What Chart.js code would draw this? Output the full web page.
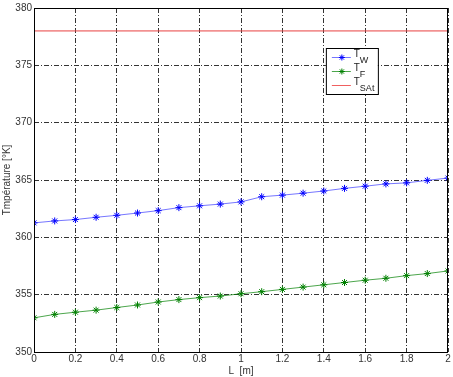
<!DOCTYPE html>
<html>
<head>
<meta charset="utf-8">
<script src="https://cdn.jsdelivr.net/npm/chart.js@4"></script>
<style>
    body { margin: 0; background: #fff; }
    #wrap { width: 453px; height: 377px; }
</style>
</head>
<body>
<div id="wrap"><canvas id="tempChart" width="453" height="377"></canvas></div>
<script>
// position along the tube [m]
const lengths = [0, 0.1, 0.2, 0.3, 0.4, 0.5, 0.6, 0.7, 0.8, 0.9, 1.0,
                 1.1, 1.2, 1.3, 1.4, 1.5, 1.6, 1.7, 1.8, 1.9, 2.0];
// wall temperature
const tempWall = [361.26, 361.43, 361.55, 361.75, 361.92, 362.12, 362.33, 362.59, 362.75, 362.90, 363.09,
                  363.54, 363.68, 363.85, 364.04, 364.27, 364.46, 364.66, 364.75, 364.97, 365.17];
// fluid temperature
const tempFluid = [352.98, 353.28, 353.47, 353.65, 353.88, 354.10, 354.36, 354.57, 354.74, 354.88, 355.08,
                   355.26, 355.46, 355.66, 355.86, 356.06, 356.26, 356.43, 356.66, 356.84, 357.07];
// saturation temperature
const tempSat = 378;
const xRange = [0, 2];
const yRange = [350, 380];

const legendItems = [
    { main: "T", sub: "W", color: "#0000ff", line: "rgba(60,60,255,0.7)", marker: true },
    { main: "T", sub: "F", color: "#008000", line: "rgba(0,128,0,0.7)", marker: true },
    { main: "T", sub: "SAt", color: "#f06060", line: "#f06060", marker: false }
];

const font = { family: "Liberation Sans, Arial, sans-serif", size: 10 };

function drawStar(ctx, x, y, r) {
    ctx.beginPath();
    ctx.moveTo(x - r, y); ctx.lineTo(x + r, y);
    ctx.moveTo(x, y - r); ctx.lineTo(x, y + r);
    const d = r * 0.7;
    ctx.moveTo(x - d, y - d); ctx.lineTo(x + d, y + d);
    ctx.moveTo(x - d, y + d); ctx.lineTo(x + d, y - d);
    ctx.stroke();
}

const framePlugin = {
    id: "frameAndLegend",
    afterDraw(chart) {
        const ctx = chart.ctx;
        const a = chart.chartArea;
        ctx.save();
        ctx.strokeStyle = "#000";
        ctx.lineWidth = 1;
        ctx.strokeRect(a.left + 0.5, a.top + 0.5, a.right - a.left - 1, a.bottom - a.top);

        // legend box, upper right like matlab
        const bx = a.left + (a.right - a.left) * 0.705;
        const by = a.top + 40;
        const bw = 52, bh = 46;
        ctx.fillStyle = "#fff";
        ctx.fillRect(bx, by, bw, bh);
        ctx.strokeRect(bx + 0.5, by + 0.5, bw, bh);

        legendItems.forEach((item, i) => {
            const ly = by + 9.5 + i * 14;
            ctx.strokeStyle = item.line;
            ctx.lineWidth = 1;
            ctx.beginPath();
            ctx.moveTo(bx + 6, ly);
            ctx.lineTo(bx + 25, ly);
            ctx.stroke();
            if (item.marker) {
                ctx.strokeStyle = item.color;
                drawStar(ctx, bx + 16, ly, 3);
            }
            ctx.fillStyle = "#222";
            ctx.font = "10px " + font.family;
            ctx.textBaseline = "middle";
            ctx.fillText(item.main, bx + 28, ly - 3);
            ctx.font = "9px " + font.family;
            ctx.fillText(item.sub, bx + 34, ly + 3);
        });
        ctx.restore();
    }
};

const toPoints = (xs, ys) => xs.map((x, i) => ({ x: x, y: ys[i] }));

new Chart(document.getElementById("tempChart"), {
    type: "line",
    data: {
        datasets: [
            {
                label: "TW",
                data: toPoints(lengths, tempWall),
                borderColor: "rgba(60,60,255,0.7)",
                borderWidth: 1,
                pointStyle: "star",
                pointRadius: 3.5,
                pointBorderColor: "#0000ff",
                pointBorderWidth: 1,
                tension: 0
            },
            {
                label: "TF",
                data: toPoints(lengths, tempFluid),
                borderColor: "rgba(0,128,0,0.7)",
                borderWidth: 1,
                pointStyle: "star",
                pointRadius: 3.5,
                pointBorderColor: "#008000",
                pointBorderWidth: 1,
                tension: 0
            },
            {
                label: "TSAt",
                data: toPoints(xRange, [tempSat, tempSat]),
                borderColor: "#e84040",
                borderWidth: 1,
                pointRadius: 0
            }
        ]
    },
    options: {
        responsive: false,
        animation: false,
        layout: { padding: { top: 5, right: 2, left: 0, bottom: 0 } },
        plugins: {
            legend: { display: false },
            tooltip: { enabled: false }
        },
        scales: {
            x: {
                type: "linear",
                min: xRange[0],
                max: xRange[1],
                afterFit: s => { s.height = 25; },
                ticks: {
                    stepSize: 0.2,
                    padding: 1,
                    maxRotation: 0,
                    color: "#333",
                    font: font,
                    callback: v => String(+v.toFixed(1))
                },
                grid: { color: "#333", lineWidth: 1, drawTicks: false },
                border: { display: false, dash: [5, 2, 1, 2] },
                title: { display: true, text: "L  [m]", color: "#333", font: font, padding: { top: 0, bottom: 0 } }
            },
            y: {
                min: yRange[0],
                max: yRange[1],
                afterFit: s => { s.width = 34; },
                ticks: {
                    stepSize: 5,
                    padding: 2,
                    color: "#333",
                    font: font
                },
                grid: { color: "#333", lineWidth: 1, drawTicks: false },
                border: { display: false, dash: [5, 2, 1, 2] },
                title: { display: true, text: "Tmpérature [°K]", color: "#333", font: font, padding: { top: 1, bottom: 0 } }
            }
        }
    },
    plugins: [framePlugin]
});
</script>
</body>
</html>
